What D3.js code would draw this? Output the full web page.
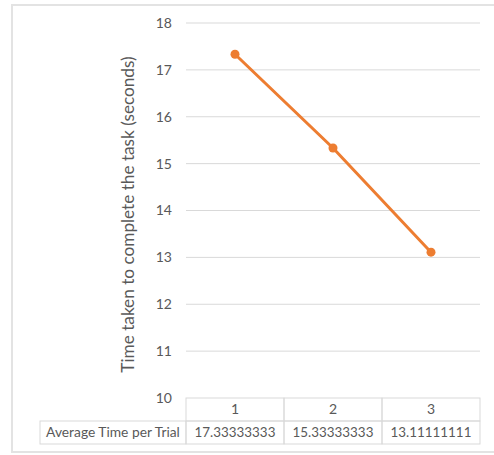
<!DOCTYPE html>
<html>
<head>
<meta charset="utf-8">
<script src="https://cdn.jsdelivr.net/npm/d3@7"></script>
<style>
  html, body { margin: 0; padding: 0; background: #fff; }
  svg { display: block; }
  text { font-family: Lato, "Open Sans", sans-serif; fill: #595959; }
</style>
</head>
<body>
<svg id="chart" width="494" height="455"></svg>
<script>
// Trial numbers and the average completion time for each
const trials = ["1", "2", "3"];
const avgTimes = [17.33333333, 15.33333333, 13.11111111];
const avgTimeLabels = ["17.33333333", "15.33333333", "13.11111111"];
const seriesName = "Average Time per Trial";
const yTicks = [10, 11, 12, 13, 14, 15, 16, 17, 18];
const yTitle = "Time taken to complete the task (seconds)";

const svg = d3.select("#chart");

// Chart frame
svg.append("rect")
  .attr("x", 12).attr("y", 5)
  .attr("width", 500).attr("height", 447)
  .attr("fill", "#fff")
  .attr("stroke", "#e3e3e3")
  .attr("stroke-width", 2);

const plot = { left: 186, right: 480, top: 23, bottom: 398 };
const rowH = 23;

const x = d3.scaleBand().domain(trials).range([plot.left, plot.right]).padding(0);
const y = d3.scaleLinear().domain([10, 18]).range([plot.bottom, plot.top]);

// Horizontal gridlines
svg.append("g")
  .selectAll("line")
  .data(yTicks.filter(t => t > 10))
  .join("line")
  .attr("x1", plot.left).attr("x2", plot.right)
  .attr("y1", d => y(d)).attr("y2", d => y(d))
  .attr("stroke", "#d9d9d9")
  .attr("stroke-width", 1);

// Y axis labels
const yAxis = svg.append("g")
  .attr("transform", `translate(${plot.left - 14},0)`)
  .call(d3.axisLeft(y).tickValues(yTicks).tickSize(0).tickPadding(0));
yAxis.select(".domain").remove();
yAxis.selectAll("text")
  .style("font-family", "Lato, 'Open Sans', sans-serif")
  .style("font-size", "14px")
  .attr("fill", "#595959")
  .attr("dy", "0.32em");

// Y axis title
svg.append("text")
  .attr("transform", `translate(134,${(plot.top + plot.bottom) / 2 + 4}) rotate(-90)`)
  .attr("text-anchor", "middle")
  .style("font-size", "17.2px")
  .text(yTitle);

// Data table under the plot
const table = svg.append("g").attr("stroke", "#d9d9d9").attr("fill", "none").attr("stroke-width", 1);
trials.forEach(t => {
  table.append("rect")
    .attr("x", x(t)).attr("y", plot.bottom)
    .attr("width", x.bandwidth()).attr("height", rowH);
  table.append("rect")
    .attr("x", x(t)).attr("y", plot.bottom + rowH)
    .attr("width", x.bandwidth()).attr("height", rowH);
});
table.append("rect")
  .attr("x", 40).attr("y", plot.bottom + rowH)
  .attr("width", plot.left - 40).attr("height", rowH);

svg.append("g").selectAll("text")
  .data(trials)
  .join("text")
  .attr("x", d => x(d) + x.bandwidth() / 2)
  .attr("y", plot.bottom + rowH / 2)
  .attr("dy", "0.35em")
  .attr("text-anchor", "middle")
  .style("font-size", "14px")
  .text(d => d);

svg.append("g").selectAll("text")
  .data(avgTimeLabels)
  .join("text")
  .attr("x", (d, i) => x(trials[i]) + x.bandwidth() / 2)
  .attr("y", plot.bottom + rowH * 1.5)
  .attr("dy", "0.35em")
  .attr("text-anchor", "middle")
  .style("font-size", "13.4px")
  .text(d => d);

svg.append("text")
  .attr("x", (40 + plot.left) / 2)
  .attr("y", plot.bottom + rowH * 1.5)
  .attr("dy", "0.35em")
  .attr("text-anchor", "middle")
  .style("font-size", "13.8px")
  .text(seriesName);

// Line series with markers
const pts = trials.map((t, i) => ({ t, v: avgTimes[i] }));
const line = d3.line()
  .x(d => x(d.t) + x.bandwidth() / 2)
  .y(d => y(d.v));

svg.append("path")
  .datum(pts)
  .attr("d", line)
  .attr("fill", "none")
  .attr("stroke", "#ED7D31")
  .attr("stroke-width", 3)
  .attr("stroke-linecap", "round");

svg.append("g").selectAll("circle")
  .data(pts)
  .join("circle")
  .attr("cx", d => x(d.t) + x.bandwidth() / 2)
  .attr("cy", d => y(d.v))
  .attr("r", 4.5)
  .attr("fill", "#ED7D31");
</script>
</body>
</html>
